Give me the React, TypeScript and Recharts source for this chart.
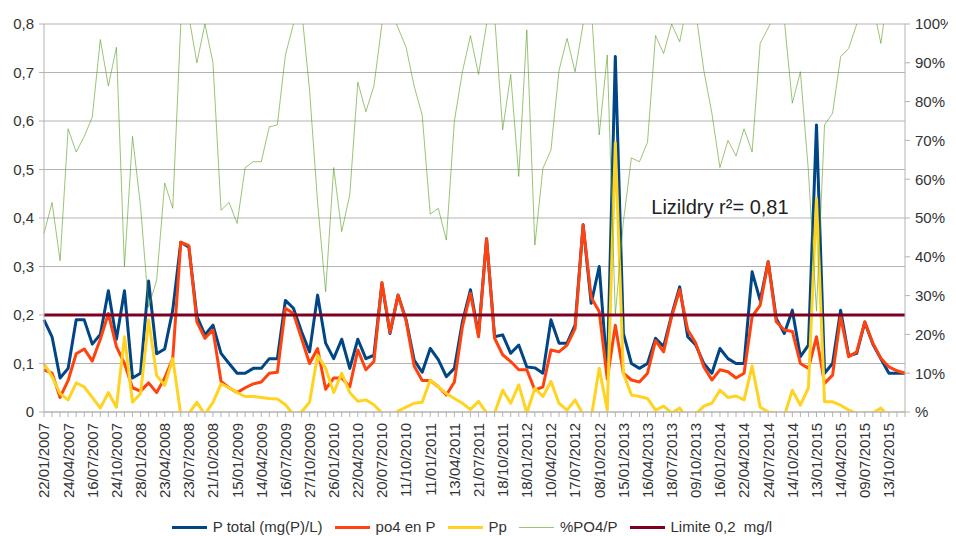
import React from "react";
import { LineChart, Line, XAxis, YAxis, CartesianGrid, ReferenceDot } from "recharts";

const FONT = "'Liberation Sans', Arial, sans-serif";

const dates = [
  "22/01/2007", "19/02/2007", "20/03/2007", "24/04/2007", "22/05/2007", "19/06/2007", "16/07/2007", "20/08/2007", "18/09/2007", "24/10/2007", "20/11/2007", "17/12/2007",
  "28/01/2008", "19/02/2008", "18/03/2008", "23/04/2008", "20/05/2008", "17/06/2008", "23/07/2008", "19/08/2008", "16/09/2008", "21/10/2008", "18/11/2008", "16/12/2008",
  "15/01/2009", "17/02/2009", "17/03/2009", "14/04/2009", "19/05/2009", "16/06/2009", "16/07/2009", "18/08/2009", "15/09/2009", "27/10/2009", "17/11/2009", "15/12/2009",
  "26/01/2010", "16/02/2010", "16/03/2010", "22/04/2010", "18/05/2010", "15/06/2010", "20/07/2010", "17/08/2010", "14/09/2010", "11/10/2010", "16/11/2010", "14/12/2010",
  "11/01/2011", "15/02/2011", "15/03/2011", "13/04/2011", "17/05/2011", "14/06/2011", "21/07/2011", "16/08/2011", "13/09/2011", "18/10/2011", "15/11/2011", "13/12/2011",
  "18/01/2012", "14/02/2012", "13/03/2012", "10/04/2012", "15/05/2012", "12/06/2012", "17/07/2012", "14/08/2012", "11/09/2012", "08/10/2012", "13/11/2012", "11/12/2012",
  "15/01/2013", "12/02/2013", "12/03/2013", "16/04/2013", "14/05/2013", "11/06/2013", "18/07/2013", "13/08/2013", "10/09/2013", "09/10/2013", "12/11/2013", "10/12/2013",
  "16/01/2014", "11/02/2014", "11/03/2014", "22/04/2014", "13/05/2014", "10/06/2014", "24/07/2014", "12/08/2014", "09/09/2014", "14/10/2014", "12/11/2014", "09/12/2014",
  "13/01/2015", "10/02/2015", "10/03/2015", "14/04/2015", "12/05/2015", "09/06/2015", "09/07/2015", "11/08/2015", "08/09/2015", "13/10/2015", "10/11/2015", "08/12/2015",
];

const pTotal = [
  0.19, 0.155, 0.07, 0.09, 0.19, 0.19, 0.14, 0.16, 0.25, 0.15,
  0.25, 0.07, 0.08, 0.27, 0.12, 0.13, 0.21, 0.35, 0.34, 0.197,
  0.159, 0.179, 0.121, 0.1, 0.08, 0.08, 0.09, 0.09, 0.11, 0.11,
  0.23, 0.214, 0.166, 0.124, 0.241, 0.142, 0.11, 0.15, 0.09, 0.15,
  0.11, 0.117, 0.265, 0.162, 0.241, 0.19, 0.107, 0.082, 0.131, 0.108,
  0.073, 0.09, 0.186, 0.252, 0.159, 0.357, 0.155, 0.159, 0.121, 0.138,
  0.093, 0.091, 0.08, 0.19, 0.142, 0.142, 0.179, 0.386, 0.224, 0.3,
  0.08, 0.733, 0.162, 0.1, 0.09, 0.1, 0.152, 0.135, 0.2, 0.258,
  0.155, 0.138, 0.1, 0.08, 0.131, 0.11, 0.1, 0.1, 0.289, 0.23,
  0.31, 0.193, 0.162, 0.21, 0.114, 0.138, 0.592, 0.08, 0.1, 0.21,
  0.116, 0.121, 0.185, 0.14, 0.11, 0.08, 0.08, 0.08,
];

const po4 = [
  0.087, 0.08, 0.03, 0.065, 0.12, 0.13, 0.105, 0.15, 0.203, 0.135,
  0.1, 0.05, 0.043, 0.06, 0.04, 0.07, 0.11, 0.35, 0.343, 0.186,
  0.152, 0.169, 0.063, 0.05, 0.04, 0.05, 0.058, 0.062, 0.08, 0.082,
  0.214, 0.203, 0.152, 0.1, 0.131, 0.047, 0.07, 0.07, 0.052, 0.128,
  0.087, 0.104, 0.267, 0.164, 0.241, 0.188, 0.095, 0.065, 0.065, 0.052,
  0.035, 0.062, 0.176, 0.245, 0.155, 0.357, 0.152, 0.118, 0.104, 0.087,
  0.087, 0.045, 0.052, 0.128, 0.124, 0.138, 0.172, 0.386, 0.236, 0.207,
  0.068, 0.179, 0.08, 0.066, 0.062, 0.08, 0.147, 0.124, 0.197, 0.252,
  0.169, 0.142, 0.093, 0.066, 0.087, 0.083, 0.07, 0.08, 0.197, 0.22,
  0.31, 0.186, 0.169, 0.166, 0.1, 0.09, 0.155, 0.059, 0.076, 0.197,
  0.114, 0.124, 0.186, 0.142, 0.111, 0.093, 0.085, 0.08,
];

const pp = [
  0.1, 0.073, 0.038, 0.025, 0.06, 0.052, 0.03, 0.008, 0.04, 0.01,
  0.155, 0.02, 0.038, 0.19, 0.075, 0.055, 0.11, -0.005, -0.003, 0.02,
  -0.005, 0.02, 0.058, 0.05, 0.04, 0.032, 0.032, 0.03, 0.028, 0.027,
  0.015, -0.005, 0.0, 0.02, 0.117, 0.09, 0.04, 0.08, 0.04, 0.022,
  0.025, 0.015, -0.002, -0.01, 0.002, 0.01, 0.018, 0.02, 0.066, 0.052,
  0.038, 0.028, 0.018, 0.005, 0.022, -0.002, -0.002, 0.045, 0.018, 0.056,
  -0.002, 0.049, 0.032, 0.063, 0.018, 0.004, 0.025, -0.005, -0.012, 0.09,
  0.004, 0.555, 0.08, 0.035, 0.032, 0.028, 0.004, 0.012, -0.002, 0.008,
  -0.014, -0.004, 0.012, 0.018, 0.045, 0.03, 0.033, 0.025, 0.095, 0.01,
  0.0, -0.002, -0.008, 0.045, 0.014, 0.05, 0.44, 0.021, 0.021, 0.014,
  0.004, -0.003, -0.002, -0.002, 0.008, -0.01, -0.005, 0.0,
];

const pctPo4 = [
  46, 54, 39, 73, 67, 71, 76, 96, 84, 94,
  37.5, 71, 53, 27, 34, 59, 52.5, 100, 102, 90,
  100, 90, 52, 54, 48.6, 63, 64.5, 64.5, 73.5, 74,
  92, 100, 104, 83, 54, 31, 63, 46.5, 56, 85,
  77.4, 84, 100, 104, 99, 94, 84, 76.5, 51, 52.5,
  44.3, 75, 87.7, 97, 87, 100, 102, 72.7, 87, 60.7,
  98.5, 43, 62.8, 67.5, 88, 96.3, 87.7, 100, 105, 71.4,
  92, 25, 49, 65.5, 64.5, 69.5, 97, 92.4, 100, 95.4,
  106, 103, 88, 77, 63, 70, 66, 73, 67, 95,
  99, 103, 101, 79.6, 87.7, 62, 26, 74, 77, 91.6,
  93.7, 100, 103, 105, 95, 110, 106, 100,
];

const LIMIT = 0.2;

const leftTicks = [0, 0.1, 0.2, 0.3, 0.4, 0.5, 0.6, 0.7, 0.8];
const rightTicks = [0, 10, 20, 30, 40, 50, 60, 70, 80, 90, 100];

const COLORS = {
  pTotal: "#004586",
  po4: "#ff420e",
  pp: "#ffd320",
  pct: "#579d1c",
  limite: "#7e0021",
};

const legendItems = [
  { name: "P total (mg(P)/L)", color: COLORS.pTotal, h: 3, op: 1 },
  { name: "po4 en P", color: COLORS.po4, h: 3, op: 1 },
  { name: "Pp", color: COLORS.pp, h: 3, op: 1 },
  { name: "%PO4/P", color: COLORS.pct, h: 1, op: 0.6 },
  { name: "Limite 0,2  mg/l", color: COLORS.limite, h: 3, op: 1 },
];

const data = dates.map((d, i) => ({
  date: d,
  pTotal: pTotal[i],
  po4: po4[i],
  pp: pp[i],
  pct: pctPo4[i],
  limite: LIMIT,
}));

const XTick = (props: any) => {
  const { x, y, payload } = props;
  const i = payload && typeof payload.index === "number" ? payload.index : props.index;
  if (i % 3 !== 0) return null;
  return (
    <text
      x={x}
      y={y}
      dy="0.36em"
      transform={`rotate(-90, ${x}, ${y})`}
      textAnchor="end"
      fill="#333"
      fontSize={15}
      fontFamily={FONT}
    >
      {payload.value}
    </text>
  );
};

const fmtLeft = (v: number) => (v === 0 ? "0" : v.toFixed(1).replace(".", ","));
const fmtRight = (v: number) => (v === 0 ? "%" : `${v}%`);

export default function App() {
  const tickStyle = { fill: "#333", fontSize: 15, fontFamily: FONT };
  return (
    <div style={{ position: "relative", width: 948, height: 528, fontFamily: FONT, background: "#fff" }}>
      <style>{`html, body { overflow: hidden; }`}</style>
      <LineChart width={948} height={500} data={data} margin={{ top: 16, right: 0, bottom: 0, left: 0 }}>
        <CartesianGrid yAxisId="left" vertical={false} stroke="#b3b3b3" />
        <XAxis
          dataKey="date"
          scale="point"
          interval={0}
          height={96}
          tickSize={5}
          tickMargin={6}
          tick={<XTick />}
          axisLine={{ stroke: "#b3b3b3" }}
          tickLine={{ stroke: "#b3b3b3" }}
        />
        <YAxis
          yAxisId="left"
          domain={[0, 0.8]}
          ticks={leftTicks}
          allowDataOverflow
          width={36}
          tickSize={5}
          tickMargin={5}
          tickFormatter={fmtLeft}
          tick={tickStyle}
          axisLine={{ stroke: "#b3b3b3" }}
          tickLine={{ stroke: "#b3b3b3" }}
        />
        <YAxis
          yAxisId="right"
          orientation="right"
          domain={[0, 100]}
          ticks={rightTicks}
          allowDataOverflow
          width={51}
          tickSize={5}
          tickMargin={5}
          tickFormatter={fmtRight}
          tick={tickStyle}
          axisLine={{ stroke: "#b3b3b3" }}
          tickLine={{ stroke: "#b3b3b3" }}
        />
        <Line yAxisId="left" type="linear" dataKey="pTotal" stroke={COLORS.pTotal} strokeWidth={3} dot={false} isAnimationActive={false} strokeLinejoin="round" />
        <Line yAxisId="left" type="linear" dataKey="po4" stroke={COLORS.po4} strokeWidth={3} dot={false} isAnimationActive={false} strokeLinejoin="round" />
        <Line yAxisId="left" type="linear" dataKey="pp" stroke={COLORS.pp} strokeWidth={3} dot={false} isAnimationActive={false} strokeLinejoin="round" />
        <Line yAxisId="right" type="linear" dataKey="pct" stroke={COLORS.pct} strokeOpacity={0.6} strokeWidth={1} dot={false} isAnimationActive={false} />
        <Line yAxisId="left" type="linear" dataKey="limite" stroke={COLORS.limite} strokeWidth={3} dot={false} isAnimationActive={false} />
        <ReferenceDot
          yAxisId="left"
          x={dates[84]}
          y={0.423}
          r={0}
          fill="none"
          stroke="none"
          label={{ value: "Lizildry r²= 0,81", position: "center", fontSize: 20, fill: "#222", fontFamily: FONT }}
        />
      </LineChart>
      <div
        style={{
          position: "absolute",
          left: 0,
          top: 510,
          width: 940,
          display: "flex",
          justifyContent: "center",
          alignItems: "center",
          fontSize: 15,
          lineHeight: "18px",
          color: "#333",
        }}
      >
        {legendItems.map((it) => (
          <div key={it.name} style={{ display: "flex", alignItems: "center", marginRight: 12 }}>
            <span style={{ display: "inline-block", width: 35, height: it.h, background: it.color, opacity: it.op, marginRight: 6 }} />
            <span style={{ whiteSpace: "pre" }}>{it.name}</span>
          </div>
        ))}
      </div>
    </div>
  );
}
